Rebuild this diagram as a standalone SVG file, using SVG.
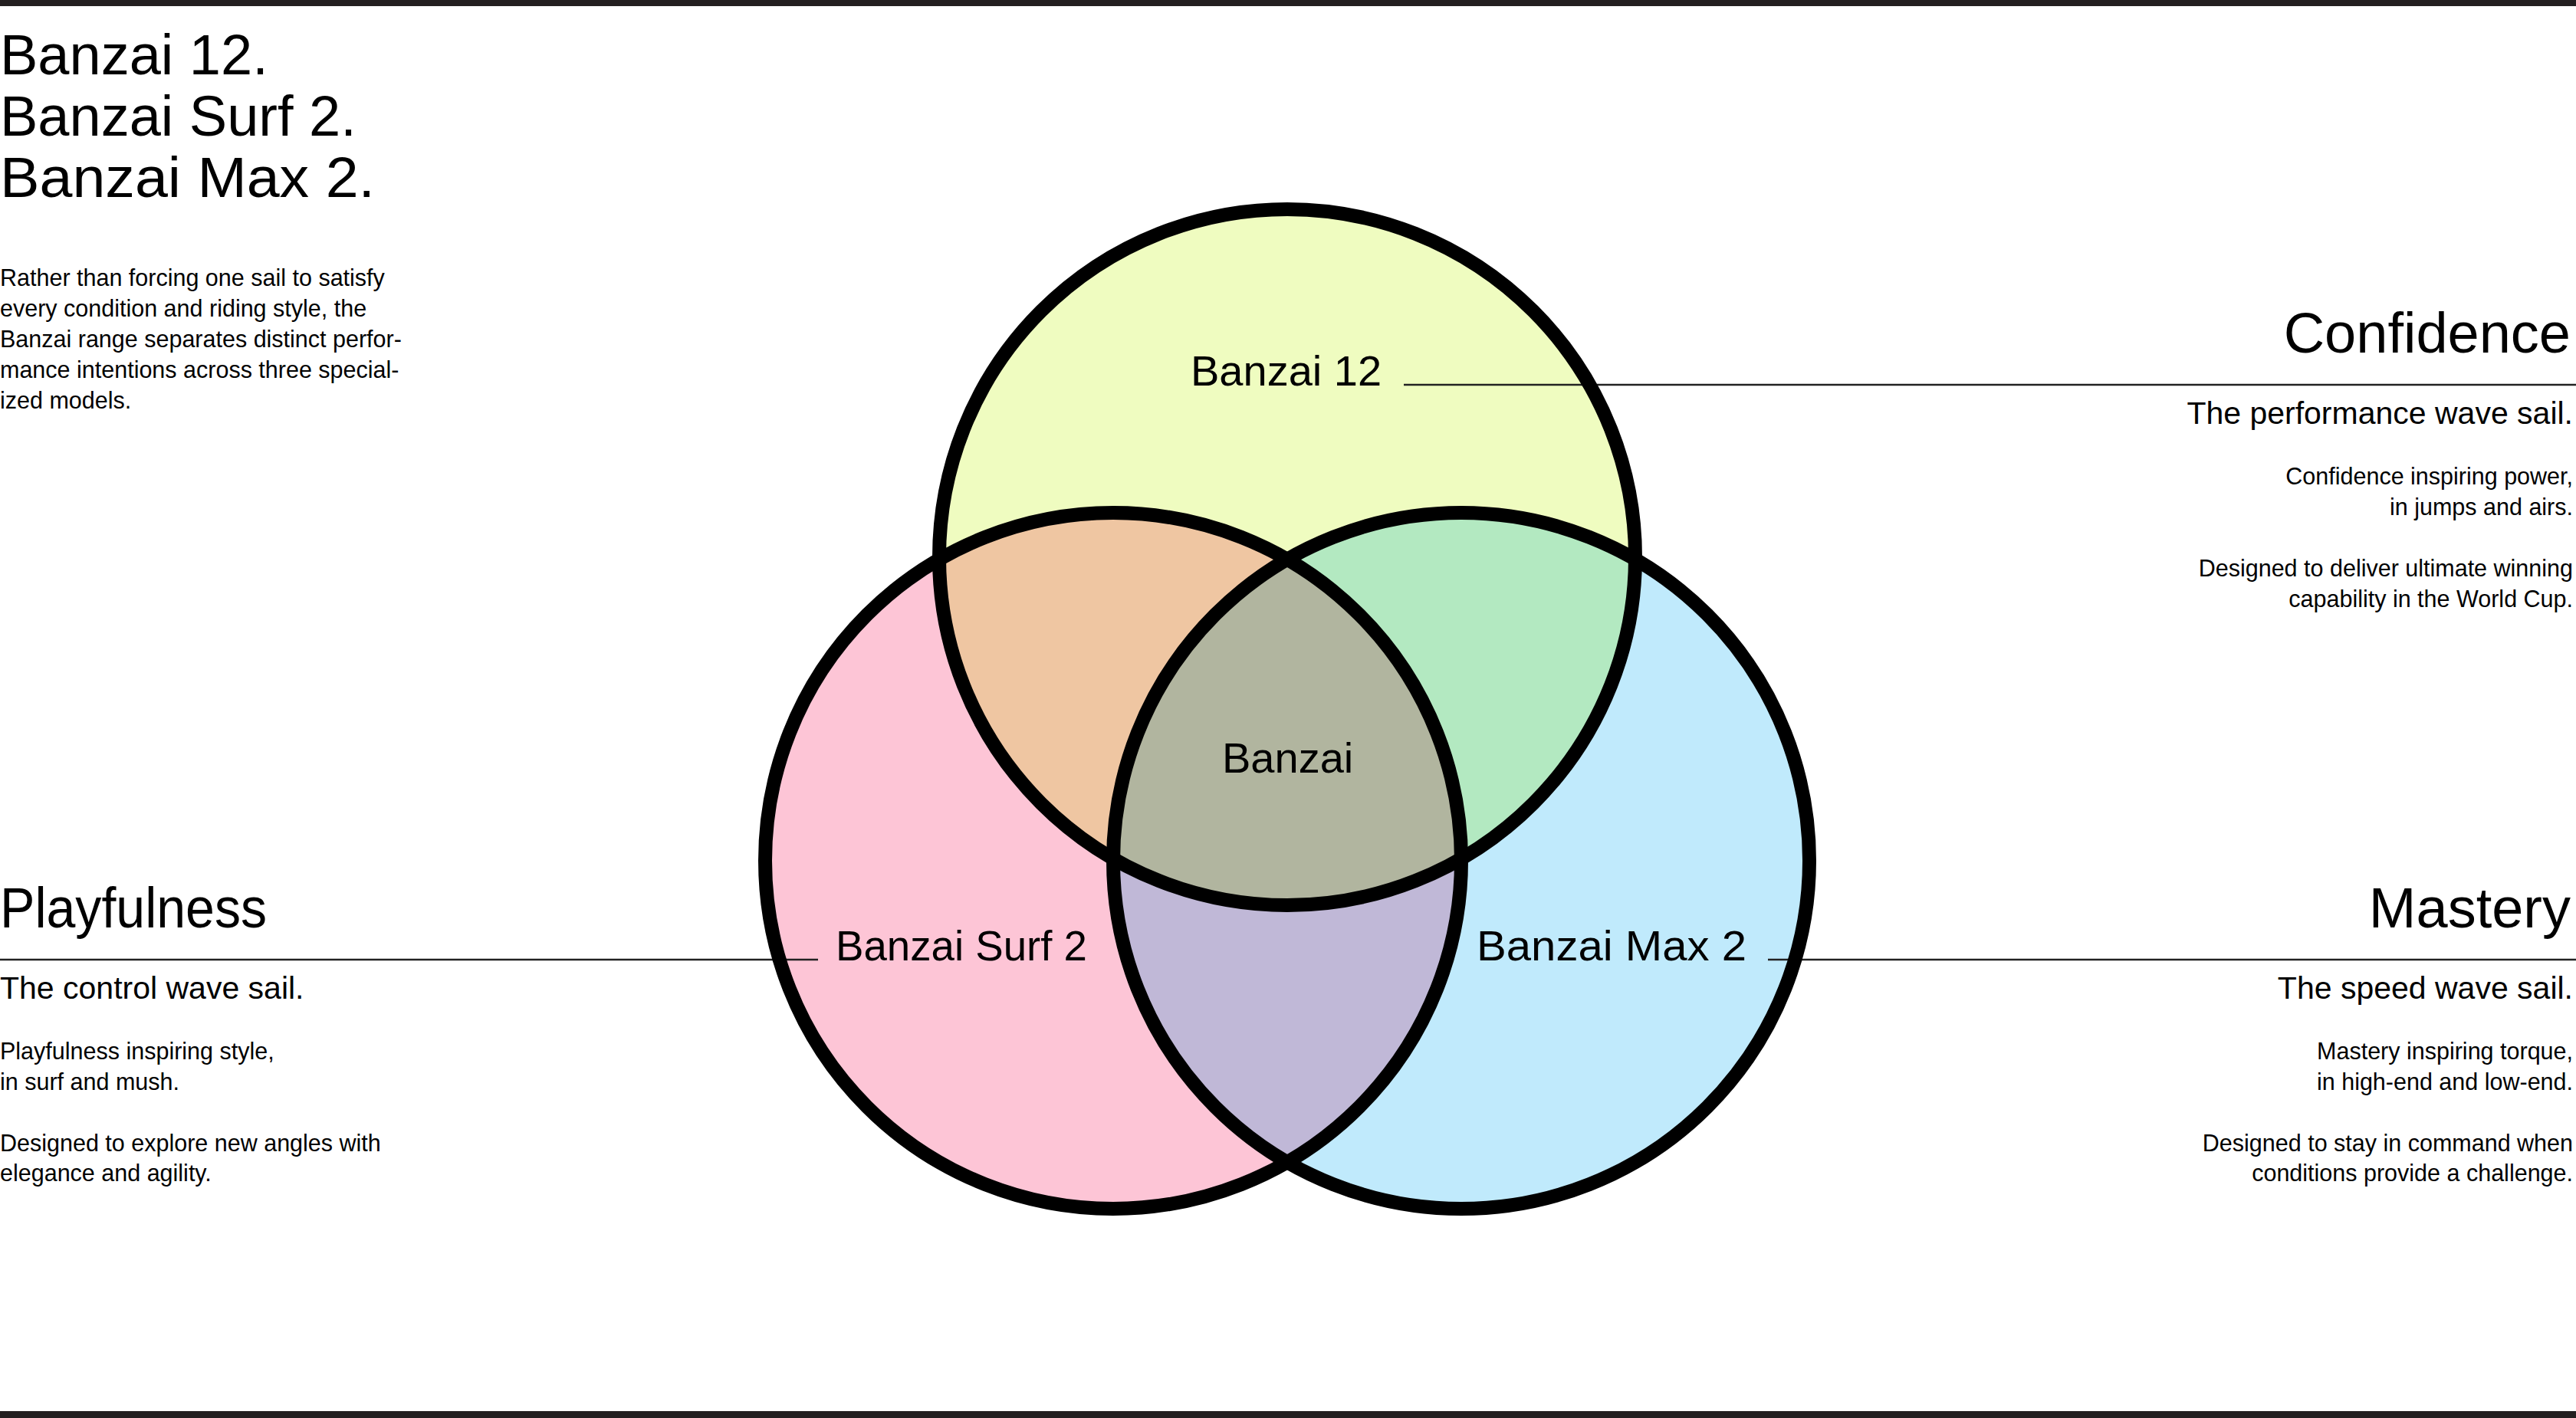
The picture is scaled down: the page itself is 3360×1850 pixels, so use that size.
<svg xmlns="http://www.w3.org/2000/svg" width="3360" height="1850" viewBox="0 0 3360 1850">
  <style>
    text { font-family: "Liberation Sans", Arial, sans-serif; fill: #000; }
    .title { font-size: 74px; }
    .head { font-size: 74px; }
    .sub { font-size: 41px; }
    .body { font-size: 30.5px; }
    .label { font-size: 56px; }
    .end { text-anchor: end; }
    .ring { fill: none; stroke: #000; stroke-width: 18; }
    .leader { stroke: #222; stroke-width: 2.5; fill: none; }
    .bar { fill: #231f20; }
  </style>
  <defs>
    <clipPath id="cT"><circle cx="1679" cy="727" r="454"/></clipPath>
    <clipPath id="cL"><circle cx="1452" cy="1123" r="454"/></clipPath>
  </defs>

  <rect width="3360" height="1850" fill="#fff"/>
  <rect class="bar" x="0" y="0" width="3360" height="8"/>
  <rect class="bar" x="0" y="1841" width="3360" height="9"/>

  <g id="intro">
    <text class="title" x="0" y="97">Banzai 12.<tspan x="0" dy="80">Banzai Surf 2.</tspan><tspan x="0" dy="80" textLength="489" lengthAdjust="spacingAndGlyphs">Banzai Max 2.</tspan></text>
    <text class="body" x="0" y="373">Rather than forcing one sail to satisfy<tspan x="0" dy="40">every condition and riding style, the</tspan><tspan x="0" dy="40">Banzai range separates distinct perfor-</tspan><tspan x="0" dy="40">mance intentions across three special-</tspan><tspan x="0" dy="40">ized models.</tspan></text>
  </g>

  <g id="venn-fills">
    <circle cx="1679" cy="727" r="454" fill="#effcc0"/>
    <circle cx="1452" cy="1123" r="454" fill="#fdc5d6"/>
    <circle cx="1906" cy="1123" r="454" fill="#c0eafc"/>
    <circle cx="1452" cy="1123" r="454" fill="#efc6a2" clip-path="url(#cT)"/>
    <circle cx="1906" cy="1123" r="454" fill="#b3e9c1" clip-path="url(#cT)"/>
    <circle cx="1906" cy="1123" r="454" fill="#c0b8d7" clip-path="url(#cL)"/>
    <g clip-path="url(#cL)">
      <circle cx="1906" cy="1123" r="454" fill="#b1b59f" clip-path="url(#cT)"/>
    </g>
  </g>

  <g id="connectors">
    <line class="leader" x1="1831" y1="502" x2="3360" y2="502"/>
    <line class="leader" x1="0" y1="1252" x2="1067" y2="1252"/>
    <line class="leader" x1="2306" y1="1252" x2="3360" y2="1252"/>
  </g>

  <g id="node-banzai12">
    <circle class="ring" cx="1679" cy="727" r="454"/>
    <text class="label" x="1553" y="503">Banzai 12</text>
  </g>
  <g id="node-surf2">
    <circle class="ring" cx="1452" cy="1123" r="454"/>
    <text class="label" x="1090" y="1253" textLength="328" lengthAdjust="spacingAndGlyphs">Banzai Surf 2</text>
  </g>
  <g id="node-max2">
    <circle class="ring" cx="1906" cy="1123" r="454"/>
    <text class="label" x="1926" y="1253" textLength="352" lengthAdjust="spacingAndGlyphs">Banzai Max 2</text>
  </g>
  <g id="node-banzai">
    <text class="label" x="1594" y="1008">Banzai</text>
  </g>

  <g id="confidence">
    <text class="head end" x="3353" y="460">Confidence</text>
    <text class="sub end" x="3356" y="553">The performance wave sail.</text>
    <text class="body end" x="3356" y="632">Confidence inspiring power,<tspan x="3356" dy="40">in jumps and airs.</tspan></text>
    <text class="body end" x="3356" y="752">Designed to deliver ultimate winning<tspan x="3356" dy="40">capability in the World Cup.</tspan></text>
  </g>

  <g id="playfulness">
    <text class="head" x="0" y="1210" textLength="348" lengthAdjust="spacingAndGlyphs">Playfulness</text>
    <text class="sub" x="0" y="1303">The control wave sail.</text>
    <text class="body" x="0" y="1382">Playfulness inspiring style,<tspan x="0" dy="40">in surf and mush.</tspan></text>
    <text class="body" x="0" y="1502">Designed to explore new angles with<tspan x="0" dy="39">elegance and agility.</tspan></text>
  </g>

  <g id="mastery">
    <text class="head end" x="3353" y="1210">Mastery</text>
    <text class="sub end" x="3356" y="1303">The speed wave sail.</text>
    <text class="body end" x="3356" y="1382">Mastery inspiring torque,<tspan x="3356" dy="40">in high-end and low-end.</tspan></text>
    <text class="body end" x="3356" y="1502">Designed to stay in command when<tspan x="3356" dy="39">conditions provide a challenge.</tspan></text>
  </g>
</svg>
